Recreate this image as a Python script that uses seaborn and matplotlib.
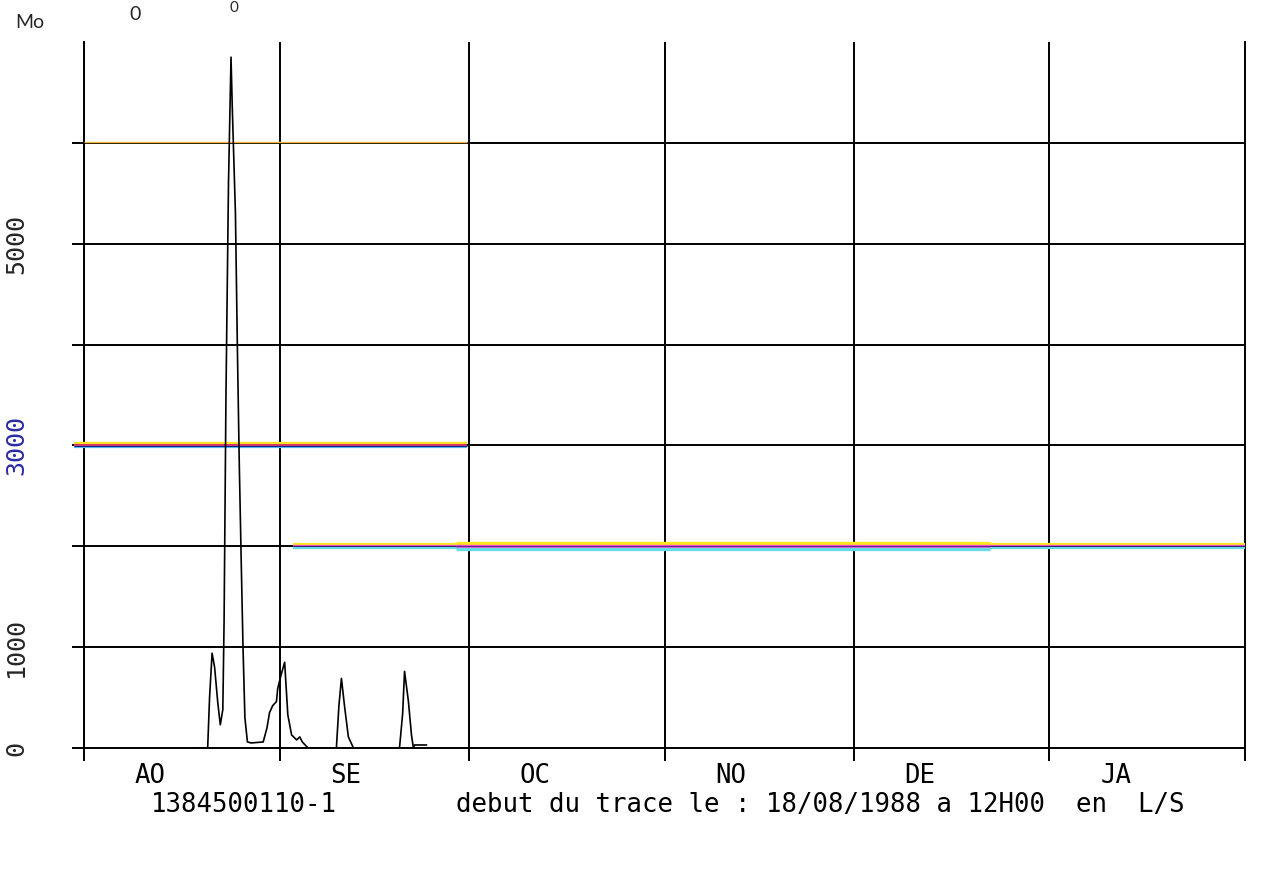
import matplotlib
matplotlib.use("Agg")
import matplotlib.pyplot as plt
import matplotlib.transforms as mtransforms
import pandas as pd
import seaborn as sns

# flow record
# days counted from 01/08/1988 00H00, flow in L/S
day = [17.5, 19.6, 19.9, 20.3, 20.7, 21.2, 21.6, 22.0, 22.2, 22.5, 22.9, 23.3,
       23.5, 24.0, 24.3, 24.6, 24.9, 25.2, 25.5, 25.9, 26.5, 28.4, 29.0, 29.4,
       29.9, 30.5, 30.7, 31.3, 31.8, 32.3, 32.9, 33.7, 34.2, 34.6, 35.5, 40.0,
       40.4, 40.8, 41.3, 41.9, 42.7, 50.0, 50.5, 50.8, 51.4, 51.9, 52.2, 52.4,
       54.3]
flow = [0, 0, 500, 940, 800, 450, 230, 380, 1250, 3500, 5600, 6850,
        6350, 5300, 4000, 2850, 1900, 1000, 300, 60, 50, 60, 200, 350,
        420, 460, 590, 740, 850, 330, 130, 80, 110, 60, 0, 0,
        420, 690, 410, 110, 0, 0, 340, 760, 470, 130, 0, 30,
        30]

month_names = ["AO", "SE", "OC", "NO", "DE", "JA"]
month_start = [0, 31, 61, 92, 122, 153]
last_day = 184

flow_ticks = [0, 1000, 2000, 3000, 4000, 5000, 6000]
flow_labels = ["0", "1000", "", "3000", "", "5000", ""]
flow_top = 7000

station = "1384500110-1"
caption = "debut du trace le : 18/08/1988 a 12H00  en  L/S"

W, H = 1261, 886
MONO = "DejaVu Sans Mono"
INK = "black"

sns.set_theme(style="white")
plt.rcParams["font.family"] = [MONO, "DejaVu Sans"]

fig = plt.figure(figsize=(W / 100, H / 100), dpi=100)
ax = fig.add_axes([84 / W, 1 - 748 / H, 1161 / W, 706 / H])

df = pd.DataFrame({"day": day, "flow": flow})
sns.lineplot(data=df, x="day", y="flow", ax=ax, color=INK, lw=1.2,
             estimator=None, sort=False, zorder=4)

ax.set_xlim(0, last_day)
ax.set_ylim(0, flow_top)
ax.set_xlabel("")
ax.set_ylabel("")

# frame: no top, the rest drawn like the plotter grid
ax.spines["top"].set_visible(False)
for side in ["left", "right", "bottom"]:
    ax.spines[side].set_color(INK)
    ax.spines[side].set_linewidth(1.4)

ax.set_xticks(month_start + [last_day])
ax.set_xticklabels([])
ax.grid(True, axis="x", color=INK, lw=1.4)
ax.tick_params(axis="x", direction="out", length=9, width=1.4, color=INK, bottom=True)

for v in flow_ticks[1:]:
    ax.axhline(v, color=INK, lw=1.4, zorder=2)

ax.set_yticks(flow_ticks)
ax.set_yticklabels(flow_labels, rotation=90, fontsize=18, family=MONO)
ax.tick_params(axis="y", direction="out", length=9, width=1.4, color=INK, pad=40, left=True)
for lab in ax.get_yticklabels():
    lab.set_horizontalalignment("center")
    lab.set_verticalalignment("center")
    if lab.get_text() == "3000":
        lab.set_color("#2a2aa8")


# colour fringes of the scanned copy on two grid lines
def shifted(dy):
    return ax.get_yaxis_transform() + mtransforms.ScaledTranslation(0, dy / 72, fig.dpi_scale_trans)


fringes = [
    (6000, 0.0, 0.33, [("#f2b53a", 0.8, 1.0)]),
    (3000, -0.009, 0.33, [("#ffe61c", 1.5, 1.6), ("#e0356e", 0.2, 1.4), ("#4fc9ea", -1.3, 1.6), ("#1c1c8c", -0.2, 0.8)]),
    (2000, 0.18, 1.0, [("#ffe61c", 1.4, 1.6), ("#e24ad6", 0.0, 1.6), ("#62dde6", -1.4, 1.6), ("#3a1f6a", 0.0, 0.7)]),
    (2000, 0.32, 0.78, [("#ffe61c", 2.4, 2.4), ("#e24ad6", 0.2, 2.4), ("#62dde6", -2.1, 2.4), ("#4b1f7a", 0.3, 0.6)]),
]
for v, x0, x1, layers in fringes:
    for color, dy, lw in layers:
        ax.plot([x0, x1], [v, v], color=color, lw=lw, transform=shifted(dy),
                clip_on=False, solid_capstyle="butt", zorder=3)

# month names under the axis
for name, d in zip(month_names, month_start):
    ax.annotate(name, xy=(d + 10.5, 0), xytext=(0, -11), textcoords="offset points",
                ha="center", va="top", fontsize=18.5, family=MONO, color=INK)

ax.annotate(station, xy=(0.058, 0), xycoords=("axes fraction", "data"),
            xytext=(0, -32), textcoords="offset points",
            ha="left", va="top", fontsize=18.5, family=MONO, color=INK)
ax.annotate(caption, xy=(0.32, 0), xycoords=("axes fraction", "data"),
            xytext=(0, -32), textcoords="offset points",
            ha="left", va="top", fontsize=18.5, family=MONO, color=INK)

# cut-off header of the sheet
HEAD = ["Lato", "DejaVu Sans"]
fig.text(30 / W, 1 - 22 / H, "Mo", ha="center", va="center", fontsize=14, family=HEAD)
fig.text(135 / W, 1 - 14 / H, "0", ha="center", va="center", fontsize=14, family=HEAD)
fig.text(234 / W, 1 - 8 / H, "0", ha="center", va="center", fontsize=11, family=HEAD)

fig.savefig("out.png", dpi=100)
